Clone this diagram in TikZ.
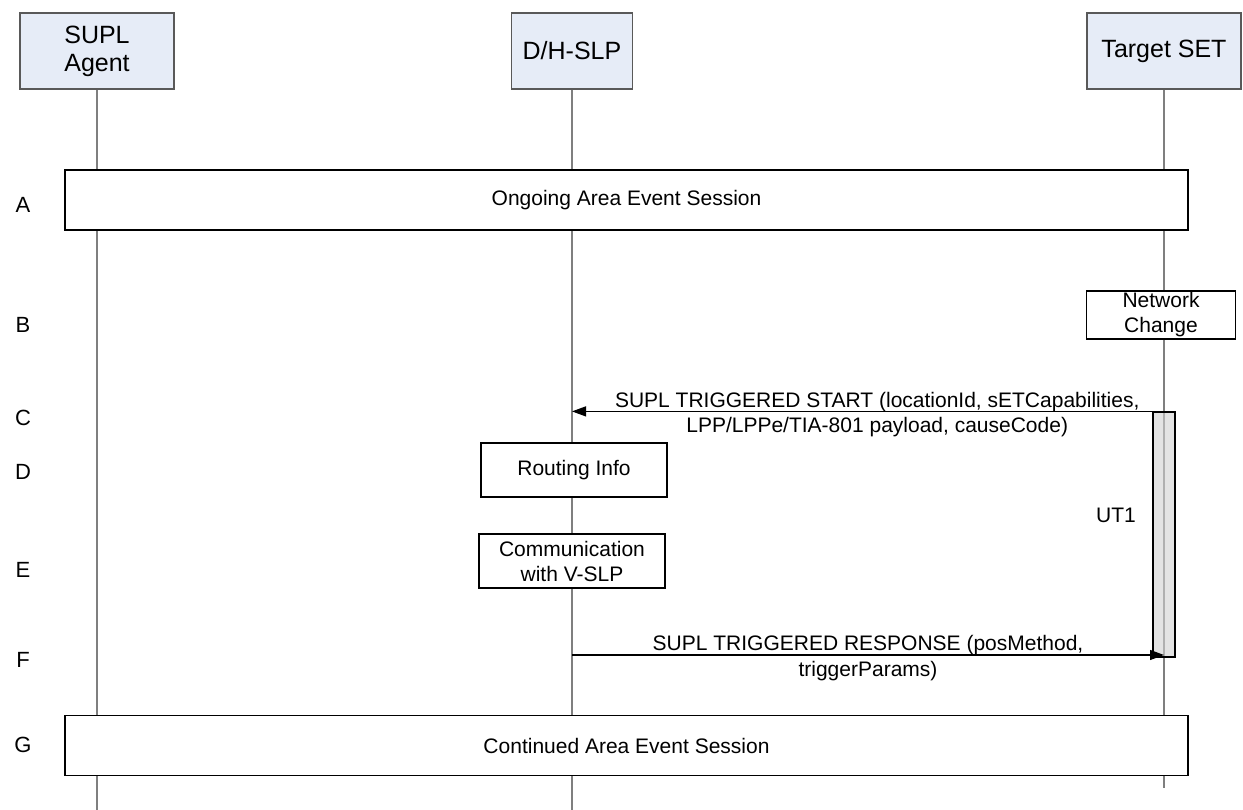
\documentclass[tikz,border=0pt]{standalone}
\usepackage{fontspec}
\setmainfont{Liberation Sans}
\definecolor{hdfill}{HTML}{E6ECF7}
\definecolor{hdline}{HTML}{595959}
\definecolor{lifegray}{HTML}{7F7F7F}
\definecolor{barfill}{HTML}{D0D0D0}
\usetikzlibrary{arrows.meta,positioning}

\begin{document}
\begin{tikzpicture}[x=1pt,y=-1pt,
  font=\fontsize{21}{25}\selectfont,
  head/.style={draw=hdline,line width=1.2pt,fill=hdfill,minimum width=154pt,minimum height=76pt,align=center,inner sep=2pt,font=\fontsize{25}{28}\selectfont},
  life/.style={draw=lifegray,line width=1.3pt},
  phase/.style={draw=black,line width=1.5pt,fill=white,minimum width=1123pt,minimum height=60pt},
  act/.style={draw=black,line width=1.2pt,fill=white,align=center,inner sep=1pt},
  tag/.style={font=\fontsize{22}{24}\selectfont},
  timer/.style={draw=black,line width=1.2pt,fill=barfill,fill opacity=0.6,minimum width=22pt,minimum height=245pt,inner sep=0pt},
  msg/.style={-{Triangle[length=14pt,width=10pt]},line width=1.2pt}]
\useasboundingbox (0,0) rectangle (1243,810);
% lifeline heads
\node[head] (agent) at (97,51) {SUPL\\Agent};
\node[head,minimum width=121pt] (slp) at (572,51) {D/H-SLP};
\node[head] (set) at (1164,51) {Target SET};
\coordinate (agentEnd) at (97,810);
\coordinate (slpEnd) at (572,810);
\coordinate (setEnd) at (1164,788);
\draw[life] (agent) -- (agentEnd);
\draw[life] (slp) -- (slpEnd);
\draw[life] (set) -- (setEnd);
% step letters
\node[tag] (tA) at (23,205) {A};
\node[tag] (tB) at (23,325) {B};
\node[tag] (tC) at (23,418) {C};
\node[tag] (tD) at (23,472) {D};
\node[tag] (tE) at (23,570) {E};
\node[tag] (tF) at (23,660) {F};
\node[tag] (tG) at (23,745) {G};
% sessions and local actions
\node[phase] (sessA) at (626.5,200) {Ongoing Area Event Session};
\node[act,minimum width=149pt,minimum height=48pt] (netchg) at (1161,315) {Network\\Change};
\node[act,minimum width=186pt,minimum height=54pt] (route) at (574,470) {Routing Info};
\node[act,minimum width=186pt,minimum height=54pt] (comm) at (572,561) {Communication\\with V-SLP};
\node[phase] (sessG) at (626.5,745.5) {Continued Area Event Session};
% UT1 timer
\node[timer] (ut1) at (1164,534.5) {};
\node (ut1lbl) at (1116,515) {UT1};
% messages
\draw[msg] (ut1.north west) -- node[above=-4pt,xshift=15pt]{SUPL TRIGGERED START (locationId, sETCapabilities,}
  node[below=2pt,xshift=15pt]{LPP/LPPe/TIA-801 payload, causeCode)} (ut1.north west -| slpEnd);
\coordinate (fFrom) at (572,655);
\coordinate (fTo) at (1164,655);
\draw[msg] (fFrom) -- node[above=-4pt]{SUPL TRIGGERED RESPONSE (posMethod,}
  node[below=2pt]{triggerParams)} (fTo);
\end{tikzpicture}
\end{document}
